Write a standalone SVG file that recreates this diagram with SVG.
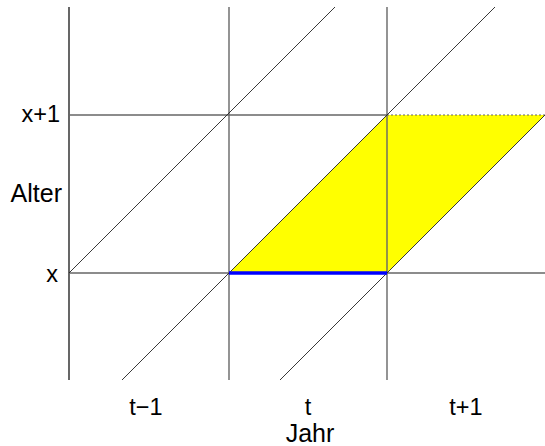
<svg xmlns="http://www.w3.org/2000/svg" width="545" height="446" viewBox="0 0 545 446">
<style>
.grid{stroke:#666;stroke-width:1.4;fill:none}
.axis{stroke:#000;stroke-width:1.2;fill:none}
.diag{stroke:#222;stroke-width:0.9;fill:none}
.lbl{font-family:"Liberation Sans",Arial,sans-serif;font-size:23.5px;fill:#000}
.ttl{font-family:"Liberation Sans",Arial,sans-serif;font-size:25px;fill:#000}
</style>
<rect width="545" height="446" fill="#fff"/>
<g id="region">
<polygon points="229,273 387,273 545,115 387,115" fill="#ffff00" stroke="none"/>
<line x1="387" y1="115" x2="545" y2="115" stroke="#666" stroke-width="1.2" stroke-dasharray="2,2"/>
</g>
<g id="connectors">
<line class="axis" x1="69" y1="7" x2="69" y2="380"/>
<line class="grid" x1="229" y1="7" x2="229" y2="380"/>
<line class="grid" x1="387" y1="7" x2="387" y2="380"/>
<line class="grid" x1="69" y1="115" x2="387" y2="115"/>
<line class="grid" x1="69" y1="273" x2="545" y2="273"/>
<line class="diag" x1="69" y1="273" x2="335" y2="7"/>
<line class="diag" x1="122" y1="380" x2="495" y2="7"/>
<line class="diag" x1="280" y1="380" x2="545" y2="115"/>
<line x1="229" y1="273" x2="387" y2="273" stroke="#0000ff" stroke-width="3.5"/>
</g>
<g id="labels">
<text class="lbl" x="60" y="122" text-anchor="end">x+1</text>
<text class="ttl" x="62" y="202" text-anchor="end">Alter</text>
<text class="lbl" x="58" y="282" text-anchor="end">x</text>
<text class="lbl" x="146" y="415" text-anchor="middle">t−1</text>
<text class="lbl" x="308" y="415" text-anchor="middle">t</text>
<text class="lbl" x="466" y="415" text-anchor="middle">t+1</text>
<text class="ttl" x="310" y="442" text-anchor="middle">Jahr</text>
</g>
</svg>
